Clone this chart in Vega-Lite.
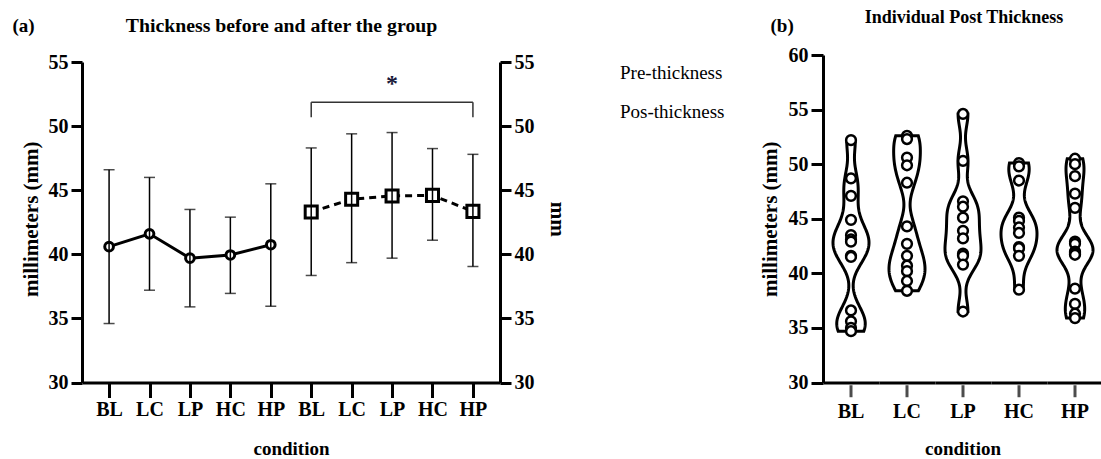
{
  "$schema": "https://vega.github.io/schema/vega-lite/v6.json",
  "background": "white",
  "padding": {"left": 12, "top": 9, "right": 0, "bottom": 0},
  "autosize": {"type": "pad"},
  "title": {"text": "(b)", "anchor": "start", "frame": "bounds", "dx": 758, "offset": -26.5, "fontSize": 19, "font": "Liberation Serif", "fontWeight": "bold", "color": "black"},
  "datasets": {
    "summary": [
      {"phase": "Pre-thickness", "slot": "Pre BL", "mean": 40.6, "lo": 34.6, "hi": 46.6},
      {"phase": "Pre-thickness", "slot": "Pre LC", "mean": 41.6, "lo": 37.2, "hi": 46.0},
      {"phase": "Pre-thickness", "slot": "Pre LP", "mean": 39.7, "lo": 35.9, "hi": 43.5},
      {"phase": "Pre-thickness", "slot": "Pre HC", "mean": 39.95, "lo": 36.95, "hi": 42.9},
      {"phase": "Pre-thickness", "slot": "Pre HP", "mean": 40.75, "lo": 35.95, "hi": 45.5},
      {"phase": "Pos-thickness", "slot": "Post BL", "mean": 43.3, "lo": 38.35, "hi": 48.3},
      {"phase": "Pos-thickness", "slot": "Post LC", "mean": 44.3, "lo": 39.35, "hi": 49.4},
      {"phase": "Pos-thickness", "slot": "Post LP", "mean": 44.55, "lo": 39.7, "hi": 49.5},
      {"phase": "Pos-thickness", "slot": "Post HC", "mean": 44.6, "lo": 41.1, "hi": 48.25},
      {"phase": "Pos-thickness", "slot": "Post HP", "mean": 43.35, "lo": 39.05, "hi": 47.8}
    ],
    "violin": [
      {"condition": "BL", "value": 52.2},
      {"condition": "BL", "value": 48.7},
      {"condition": "BL", "value": 47.1},
      {"condition": "BL", "value": 44.9},
      {"condition": "BL", "value": 43.5},
      {"condition": "BL", "value": 43.1},
      {"condition": "BL", "value": 42.9},
      {"condition": "BL", "value": 41.6},
      {"condition": "BL", "value": 41.5},
      {"condition": "BL", "value": 36.6},
      {"condition": "BL", "value": 35.6},
      {"condition": "BL", "value": 35.0},
      {"condition": "BL", "value": 34.7},
      {"condition": "LC", "value": 52.6},
      {"condition": "LC", "value": 52.3},
      {"condition": "LC", "value": 50.6},
      {"condition": "LC", "value": 49.9},
      {"condition": "LC", "value": 48.3},
      {"condition": "LC", "value": 44.3},
      {"condition": "LC", "value": 42.7},
      {"condition": "LC", "value": 41.6},
      {"condition": "LC", "value": 40.7},
      {"condition": "LC", "value": 40.2},
      {"condition": "LC", "value": 39.3},
      {"condition": "LC", "value": 38.4},
      {"condition": "LP", "value": 54.6},
      {"condition": "LP", "value": 50.3},
      {"condition": "LP", "value": 46.6},
      {"condition": "LP", "value": 46.1},
      {"condition": "LP", "value": 45.1},
      {"condition": "LP", "value": 43.9},
      {"condition": "LP", "value": 43.2},
      {"condition": "LP", "value": 41.8},
      {"condition": "LP", "value": 41.6},
      {"condition": "LP", "value": 40.8},
      {"condition": "LP", "value": 36.5},
      {"condition": "HC", "value": 50.1},
      {"condition": "HC", "value": 49.8},
      {"condition": "HC", "value": 48.5},
      {"condition": "HC", "value": 45.1},
      {"condition": "HC", "value": 44.8},
      {"condition": "HC", "value": 44.2},
      {"condition": "HC", "value": 43.7},
      {"condition": "HC", "value": 42.4},
      {"condition": "HC", "value": 42.3},
      {"condition": "HC", "value": 41.6},
      {"condition": "HC", "value": 38.5},
      {"condition": "HP", "value": 50.5},
      {"condition": "HP", "value": 50.0},
      {"condition": "HP", "value": 48.9},
      {"condition": "HP", "value": 47.3},
      {"condition": "HP", "value": 46.0},
      {"condition": "HP", "value": 42.9},
      {"condition": "HP", "value": 42.7},
      {"condition": "HP", "value": 42.0},
      {"condition": "HP", "value": 41.9},
      {"condition": "HP", "value": 41.8},
      {"condition": "HP", "value": 41.7},
      {"condition": "HP", "value": 38.6},
      {"condition": "HP", "value": 37.2},
      {"condition": "HP", "value": 36.3},
      {"condition": "HP", "value": 35.9}
    ]
  },
  "spacing": 26,
  "resolve": {"legend": {"shape": "independent"}},
  "hconcat": [
    {
      "width": 418,
      "height": 327.5,
      "title": {"text": "Thickness before and after the group", "anchor": "middle", "dx": -9.5, "offset": -19, "fontSize": 19.8},
      "layer": [
        {
          "data": {"name": "summary"},
          "encoding": {
            "x": {
              "field": "slot", "type": "nominal",
              "scale": {"type": "point", "domain": ["Pre BL", "Pre LC", "Pre LP", "Pre HC", "Pre HP", "Post BL", "Post LC", "Post LP", "Post HC", "Post HP"], "padding": 0.67},
              "axis": {"labelExpr": "split(datum.label, ' ')[1]", "title": "condition", "tickSize": 15, "labelPadding": 2, "titlePadding": 20, "labelAngle": 0, "titleFontSize": 19}
            }
          },
          "layer": [
            {
              "transform": [{"filter": "datum.phase == 'Pre-thickness'"}],
              "mark": {"type": "line", "color": "black", "strokeWidth": 3},
              "encoding": {
                "y": {"field": "mean", "type": "quantitative", "scale": {"domain": [30, 55.55], "nice": false, "zero": false},
                  "axis": {"values": [30, 35, 40, 45, 50, 55], "title": "millimeters (mm)", "tickSize": 11, "titlePadding": 7, "domainDash": [320.5, 40]}}
              }
            },
            {
              "transform": [{"filter": "datum.phase == 'Pos-thickness'"}],
              "mark": {"type": "line", "color": "black", "strokeWidth": 3, "strokeDash": [7, 5]},
              "encoding": {
                "y": {"field": "mean", "type": "quantitative", "scale": {"domain": [30, 55.55], "nice": false, "zero": false}}
              }
            },
            {
              "mark": {"type": "point", "filled": true, "fill": "white", "stroke": "black", "strokeWidth": 3, "opacity": 1, "size": 75},
              "encoding": {
                "y": {"field": "mean", "type": "quantitative", "scale": {"domain": [30, 55.55], "nice": false, "zero": false}},
                "shape": {"field": "phase", "type": "nominal", "scale": {"domain": ["Pre-thickness", "Pos-thickness"], "range": ["circle", "M-1.39,-1.39H1.39V1.39H-1.39Z"]},
                  "legend": {
                    "title": null, "orient": "right", "offset": 2, "padding": 8, "symbolSize": 100, "labelFontSize": 19, "labelFont": "Liberation Serif", "labelFontWeight": "normal", "labelColor": "black", "labelOffset": 24, "rowPadding": 14, "labelLimit": 0,
                    "symbolFillColor": "white", "symbolStrokeColor": "black", "symbolStrokeWidth": 3, "symbolOpacity": 1
                  }}
              }
            },
            {
              "mark": {"type": "rule", "color": "black", "strokeWidth": 1.5},
              "encoding": {
                "y": {"field": "lo", "type": "quantitative", "scale": {"domain": [30, 55.55], "nice": false, "zero": false}},
                "y2": {"field": "hi"}
              }
            },
            {
              "mark": {"type": "tick", "color": "black", "size": 11, "thickness": 1.5},
              "encoding": {"y": {"field": "hi", "type": "quantitative", "scale": {"domain": [30, 55.55], "nice": false, "zero": false}}}
            },
            {
              "mark": {"type": "tick", "color": "black", "size": 11, "thickness": 1.5},
              "encoding": {"y": {"field": "lo", "type": "quantitative", "scale": {"domain": [30, 55.55], "nice": false, "zero": false}}}
            }
          ]
        },
        {
          "data": {"values": [{"note": "Post BL vs Post HP"}]},
          "layer": [
            {
              "mark": {"type": "rule", "color": "#333333", "strokeWidth": 1.5},
              "encoding": {
                "x": {"datum": "Post BL", "type": "nominal", "scale": {"type": "point", "domain": ["Pre BL", "Pre LC", "Pre LP", "Pre HC", "Pre HP", "Post BL", "Post LC", "Post LP", "Post HC", "Post HP"], "padding": 0.67}},
                "x2": {"datum": "Post HP"},
                "y": {"datum": 51.87, "type": "quantitative", "scale": {"domain": [30, 55.55], "nice": false, "zero": false},
                  "axis": {"orient": "right", "values": [30, 35, 40, 45, 50, 55], "title": "mm", "tickSize": 11, "titlePadding": 12, "domainDash": [320.5, 40]}}
              }
            },
            {
              "mark": {"type": "rule", "color": "#333333", "strokeWidth": 1.5},
              "encoding": {
                "x": {"datum": "Post BL", "type": "nominal", "scale": {"type": "point", "domain": ["Pre BL", "Pre LC", "Pre LP", "Pre HC", "Pre HP", "Post BL", "Post LC", "Post LP", "Post HC", "Post HP"], "padding": 0.67}},
                "y": {"datum": 51.87, "type": "quantitative", "scale": {"domain": [30, 55.55], "nice": false, "zero": false}},
                "y2": {"datum": 50.7}
              }
            },
            {
              "mark": {"type": "rule", "color": "#333333", "strokeWidth": 1.5},
              "encoding": {
                "x": {"datum": "Post HP", "type": "nominal", "scale": {"type": "point", "domain": ["Pre BL", "Pre LC", "Pre LP", "Pre HC", "Pre HP", "Post BL", "Post LC", "Post LP", "Post HC", "Post HP"], "padding": 0.67}},
                "y": {"datum": 51.87, "type": "quantitative", "scale": {"domain": [30, 55.55], "nice": false, "zero": false}},
                "y2": {"datum": 50.7}
              }
            },
            {
              "mark": {"type": "text", "text": "*", "fontSize": 24, "fontWeight": "bold", "color": "#1a1a3a", "baseline": "middle", "font": "Liberation Serif"},
              "encoding": {
                "x": {"datum": "Post LP", "type": "nominal", "scale": {"type": "point", "domain": ["Pre BL", "Pre LC", "Pre LP", "Pre HC", "Pre HP", "Post BL", "Post LC", "Post LP", "Post HC", "Post HP"], "padding": 0.67}},
                "y": {"datum": 53.3, "type": "quantitative", "scale": {"domain": [30, 55.55], "nice": false, "zero": false}}
              }
            },
            {
              "mark": {"type": "text", "text": "(a)", "fontSize": 19, "fontWeight": "bold", "color": "black", "baseline": "middle", "font": "Liberation Serif", "dx": -85.5},
              "encoding": {
                "x": {"datum": "Pre BL", "type": "nominal", "scale": {"type": "point", "domain": ["Pre BL", "Pre LC", "Pre LP", "Pre HC", "Pre HP", "Post BL", "Post LC", "Post LP", "Post HC", "Post HP"], "padding": 0.67}},
                "y": {"datum": 57.85, "type": "quantitative", "scale": {"domain": [30, 55.55], "nice": false, "zero": false}}
              }
            }
          ]
        }
      ],
      "resolve": {"scale": {"y": "independent"}}
    },
    {
      "data": {"name": "violin"},
      "facet": {
        "column": {
          "field": "condition", "type": "nominal", "sort": ["BL", "LC", "LP", "HC", "HP"], "title": "condition",
          "header": {"labelOrient": "bottom", "titleOrient": "bottom", "labelFont": "Liberation Serif", "labelFontSize": 20, "labelFontWeight": "bold", "labelColor": "black", "labelPadding": 4, "titleFont": "Liberation Serif", "titleFontSize": 19, "titleFontWeight": "bold", "titleColor": "black", "titlePadding": 8}
        }
      },
      "spacing": 0,
      "title": {"text": "Individual Post Thickness", "anchor": "middle", "offset": 18, "fontSize": 18, "dx": 33},
      "resolve": {"scale": {"x": "independent"}},
      "spec": {
        "width": 56,
        "height": 327.5,
        "layer": [
          {
            "transform": [{"density": "value", "groupby": ["condition"], "bandwidth": 1.3}],
            "mark": {"type": "area", "orient": "horizontal", "fill": "white", "stroke": "black", "strokeWidth": 3, "opacity": 1},
            "encoding": {
              "x": {"field": "density", "type": "quantitative", "stack": "center", "impute": null, "scale": {"nice": false, "zero": false, "padding": 10},
                "axis": {"labels": false, "ticks": false, "title": null, "domain": true, "grid": false}},
              "y": {"field": "value", "type": "quantitative", "scale": {"domain": [30, 60], "nice": false, "zero": false},
                "axis": {"values": [30, 35, 40, 45, 50, 55, 60], "title": "millimeters (mm)", "tickSize": 12, "titlePadding": 8}}
            }
          },
          {
            "mark": {"type": "point", "shape": "circle", "filled": true, "fill": "white", "stroke": "black", "strokeWidth": 2.5, "size": 95, "opacity": 1},
            "encoding": {
              "y": {"field": "value", "type": "quantitative", "scale": {"domain": [30, 60], "nice": false, "zero": false}}
            }
          },
          {
            "transform": [{"aggregate": [{"op": "count", "as": "n"}], "groupby": ["condition"]}],
            "mark": {"type": "tick", "orient": "vertical", "size": 12, "thickness": 3, "color": "black"},
            "encoding": {
              "y": {"datum": 29.2, "type": "quantitative", "scale": {"domain": [30, 60], "nice": false, "zero": false}}
            }
          }
        ]
      }
    }
  ],
  "config": {
    "view": {"stroke": null},
    "font": "Liberation Serif",
    "title": {"font": "Liberation Serif", "fontWeight": "bold", "color": "black"},
    "axis": {"domainColor": "black", "domainWidth": 3, "tickColor": "black", "tickWidth": 3, "labelColor": "black", "labelFont": "Liberation Serif", "labelFontSize": 20, "labelFontWeight": "bold", "titleColor": "black", "titleFont": "Liberation Serif", "titleFontSize": 21, "titleFontWeight": "bold", "grid": false, "labelPadding": 3, "labelLimit": 0, "titleLimit": 0}
  }
}
